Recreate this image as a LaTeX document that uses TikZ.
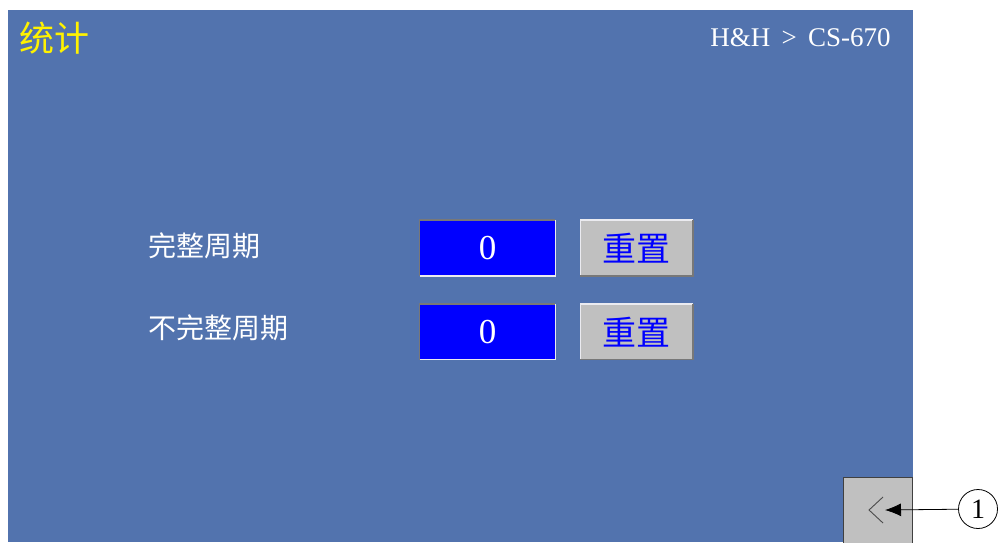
\documentclass[tikz,border=0pt]{standalone}
\usepackage{fontspec}
\setmainfont{Liberation Serif}
\newfontfamily\cjk{Noto Sans CJK SC}
\usetikzlibrary{positioning,arrows.meta}
\definecolor{screenblue}{RGB}{82,115,174}
\definecolor{valblue}{RGB}{0,0,255}
\definecolor{btngray}{RGB}{192,192,192}
\definecolor{edgedark}{RGB}{120,120,120}
\definecolor{edgelight}{RGB}{235,235,240}

\begin{document}
\begin{tikzpicture}[x=1pt,y=-1pt,>={Latex[length=16pt,width=13pt]},line width=0.8pt]
			\tikzstyle{label}=[text=white,font=\cjk\fontsize{28}{30}\selectfont,anchor=west,inner sep=0pt]
			\tikzstyle{valbox}=[fill=valblue,minimum width=135pt,minimum height=55pt,inner sep=0pt,text=white,font=\fontsize{35}{37}\selectfont]
			\tikzstyle{resetbtn}=[fill=btngray,minimum width=112pt,minimum height=55pt,inner sep=0pt,text=valblue,font=\cjk\fontsize{34}{36}\selectfont]
			\useasboundingbox (0,0) rectangle (998,542);
			\fill[white] (0,0) rectangle (998,542);
			\fill[screenblue] (8,10) rectangle (913,542);
			% title bar
			\node[text=yellow,font=\cjk\fontsize{35}{37}\selectfont,anchor=west,inner sep=0pt] (title) at (19,38) {统计};
			\node[text=white,font=\fontsize{27}{29}\selectfont,anchor=east,inner sep=0pt] (path) at (891,38) {H\&H \,>\, CS-670};
			% counters
			\node[valbox]   (val1) at (487.5,248)                  {0};
			\node[valbox]   (val2)[below=28pt of val1]             {0};
			\node[resetbtn] (rst1)[right=25pt of val1]             {重置};
			\node[resetbtn] (rst2)[right=25pt of val2]             {重置};
			\node[label]    (full) at (148,246)                    {完整周期};
			\node[label]    (part) at (148,328)                    {不完整周期};
			\foreach \v in {val1,val2}{
				\draw[edgedark,line width=1.5pt] (\v.south west) -- (\v.north west) -- (\v.north east);
				\draw[edgelight,line width=1.5pt] (\v.north east) -- (\v.south east) -- (\v.south west);
			}
			\foreach \b in {rst1,rst2}{
				\draw[edgelight,line width=1.5pt] (\b.south west) -- (\b.north west) -- (\b.north east);
				\draw[edgedark,line width=1.5pt] (\b.north east) -- (\b.south east) -- (\b.south west);
			}
			% back button and callout
			\node[fill=btngray,draw=black!75,minimum width=69pt,minimum height=66pt,inner sep=0pt] (back) at (877.5,510) {};
			\draw[black!70,line width=0.9pt] (883,497) -- (869,510) -- (883,523);
			\coordinate (tip) at (885,510);
			\node[circle,draw=black,fill=white,minimum size=39pt,inner sep=0pt,font=\fontsize{28}{28}\selectfont] (c1) at (978,509) {1};
			\path[->]
			(c1) edge (tip);
\end{tikzpicture}
\end{document}
